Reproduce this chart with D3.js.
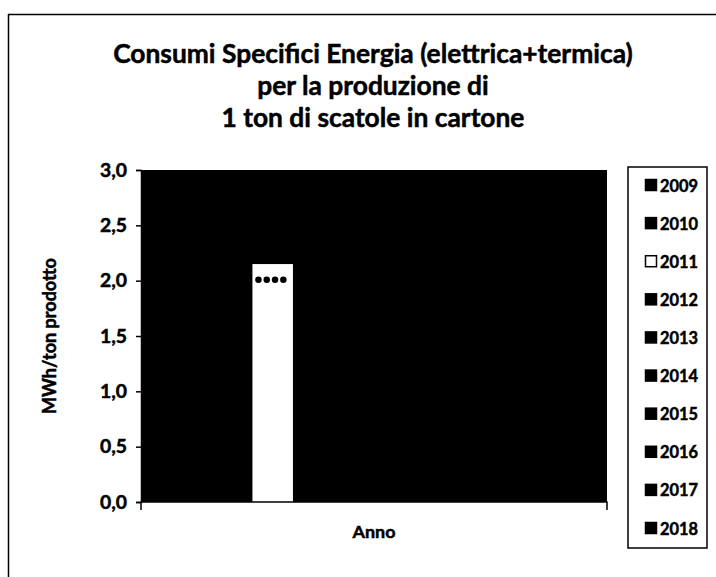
<!DOCTYPE html>
<html>
<head>
<meta charset="utf-8">
<script src="https://cdn.jsdelivr.net/npm/d3@7/dist/d3.min.js"></script>
<style>
  html, body { margin: 0; padding: 0; background: #fff; }
  svg text { font-family: Lato, "Noto Sans", sans-serif; font-weight: bold; fill: #000; stroke: #000; stroke-width: 0.5px; }
</style>
</head>
<body>
<svg id="chart" width="716" height="577"></svg>
<script>
// ---- data ----
const titleLines = ["Consumi Specifici Energia (elettrica+termica)", "per la produzione di", "1 ton di scatole in cartone"];
const category = "Anno";
const years = ["2009","2010","2011","2012","2013","2014","2015","2016","2017","2018"];
// only the 2011 bar is readable (others are black on the black plot area)
const values = [null, null, 2.15, null, null, null, null, null, null, null];
const barColors = ["#000","#000","#fff","#000","#000","#000","#000","#000","#000","#000"];
const dottedLevel = 2.0;
const yTicks = [0, 0.5, 1.0, 1.5, 2.0, 2.5, 3.0];
const yLabel = "MWh/ton prodotto";

// ---- helpers ----
function fitFont(sel, base, target) {
  sel.style("font-size", base + "px");
  const w = sel.node().getComputedTextLength();
  const s = base * target / w;
  sel.style("font-size", s + "px");
  return s;
}

// ---- layout ----
const svg = d3.select("#chart");
const plot = { left: 141, right: 607, top: 170, bottom: 502 };

// outer frame (top and left edges visible)
svg.append("line").attr("x1", 8).attr("x2", 716).attr("y1", 14.5).attr("y2", 14.5)
  .attr("stroke", "#000").attr("stroke-width", 1.5);
svg.append("line").attr("x1", 8.5).attr("x2", 8.5).attr("y1", 14).attr("y2", 577)
  .attr("stroke", "#000").attr("stroke-width", 1.5);

// title
const titleY = [63, 95, 127];
const t0 = svg.append("text").attr("x", 373).attr("y", titleY[0]).attr("text-anchor", "middle").text(titleLines[0]);
const tSize = fitFont(t0, 21, 520);
titleLines.slice(1).forEach((t, i) => {
  svg.append("text").attr("x", 373).attr("y", titleY[i + 1]).attr("text-anchor", "middle")
    .style("font-size", tSize + "px").text(t);
});

const y = d3.scaleLinear().domain([0, 3]).range([plot.bottom, plot.top]);
const x = d3.scaleBand().domain(years).range([plot.left, plot.right]).paddingInner(0).paddingOuter(0.75);

// plot area
svg.append("rect").attr("x", plot.left).attr("y", plot.top)
  .attr("width", plot.right - plot.left).attr("height", plot.bottom - plot.top).attr("fill", "#000");

// bars
const data = years.map((yr, i) => ({ year: yr, value: values[i], color: barColors[i] }))
  .filter(d => d.value != null);
svg.append("g").selectAll("rect").data(data).join("rect")
  .attr("x", d => x(d.year)).attr("width", x.bandwidth())
  .attr("y", d => y(d.value)).attr("height", d => y(0) - y(d.value))
  .attr("fill", d => d.color);

// dotted line at 2.0 across the visible bar
const b = data[0];
svg.append("line")
  .attr("x1", x(b.year) + 6).attr("x2", x(b.year) + x.bandwidth() - 2)
  .attr("y1", y(dottedLevel) - 1).attr("y2", y(dottedLevel) - 1)
  .attr("stroke", "#000").attr("stroke-width", 6.5).attr("stroke-linecap", "round")
  .attr("stroke-dasharray", "0 8.3");

// y axis
const yAxis = d3.axisLeft(y).tickValues(yTicks).tickSize(5).tickPadding(9)
  .tickFormat(d => d3.format(".1f")(d).replace(".", ","));
const gy = svg.append("g").attr("transform", `translate(${plot.left},0)`).call(yAxis);
gy.select(".domain").attr("stroke", "#000").attr("stroke-width", 1.5);
gy.selectAll(".tick line").attr("stroke", "#000").attr("stroke-width", 1.5);
const firstTick = gy.selectAll(".tick text").filter(d => d === 3.0);
const tickSize = fitFont(firstTick, 14, 27);
gy.selectAll(".tick text").style("font-size", tickSize + "px");

// x axis
const xc = d3.scaleBand().domain([category]).range([plot.left, plot.right]);
const xAxis = d3.axisBottom(xc).tickSize(0).tickPadding(22);
const gx = svg.append("g").attr("transform", `translate(0,${plot.bottom})`).call(xAxis);
gx.select(".domain").attr("stroke", "#000").attr("stroke-width", 1.5)
  .attr("d", `M${plot.left},8V0H${plot.right}V8`);
const anno = gx.selectAll(".tick text");
fitFont(anno, 14, 43);
anno.attr("y", 23);

// y label
const yl = svg.append("text").attr("transform", `translate(56,${(plot.top + plot.bottom) / 2}) rotate(-90)`)
  .attr("text-anchor", "middle").text(yLabel);
fitFont(yl, 14, 156);

// legend
const lg = svg.append("g");
lg.append("rect").attr("x", 628).attr("y", 167).attr("width", 79).attr("height", 381)
  .attr("fill", "#fff").attr("stroke", "#000").attr("stroke-width", 1.5);
const ly = d3.scalePoint().domain(years).range([185, 528]);
let legSize = null;
years.forEach((yr, i) => {
  lg.append("rect").attr("x", 645.5).attr("y", ly(yr) - 5.5).attr("width", 11).attr("height", 11)
    .attr("fill", barColors[i]).attr("stroke", "#000").attr("stroke-width", 1.5);
  const t = lg.append("text").attr("x", 660).attr("y", ly(yr) + 6.5).text(yr);
  if (legSize === null) legSize = fitFont(t, 16, 38);
  else t.style("font-size", legSize + "px");
});
</script>
</body>
</html>
